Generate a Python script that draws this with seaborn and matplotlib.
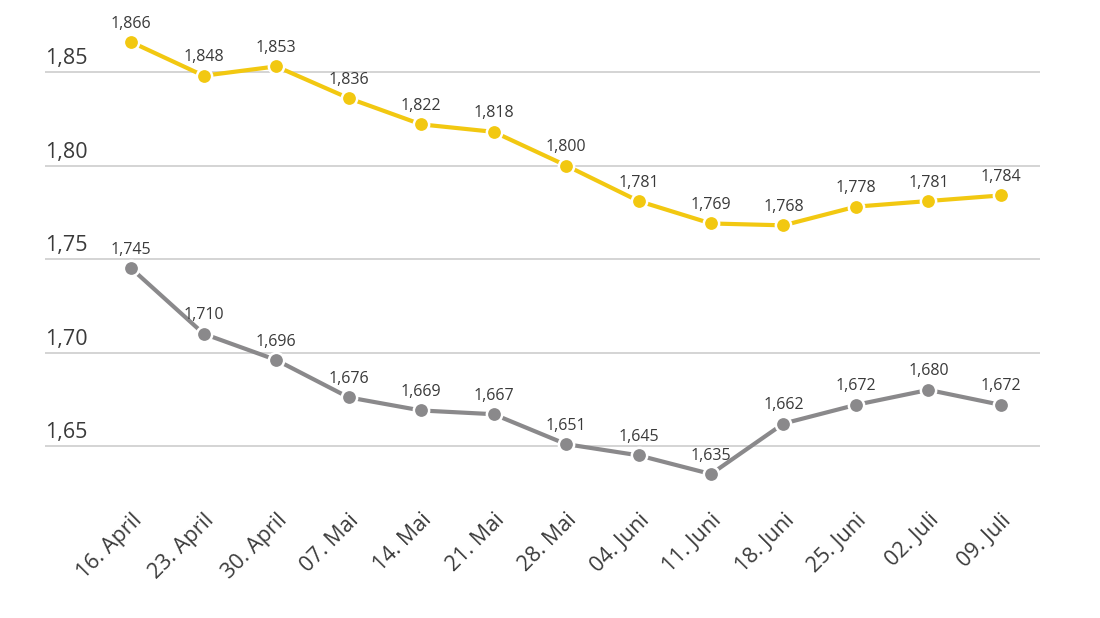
import numpy as np
import pandas as pd
import matplotlib
matplotlib.use("Agg")
import matplotlib.pyplot as plt
import matplotlib.transforms as mtransforms
import seaborn as sb

## Daten
dates = ["16. April", "23. April", "30. April", "07. Mai", "14. Mai", "21. Mai",
         "28. Mai", "04. Juni", "11. Juni", "18. Juni", "25. Juni", "02. Juli",
         "09. Juli"]
yellow_vals = [1.866, 1.848, 1.853, 1.836, 1.822, 1.818, 1.800, 1.781,
               1.769, 1.768, 1.778, 1.781, 1.784]
gray_vals = [1.745, 1.710, 1.696, 1.676, 1.669, 1.667, 1.651, 1.645,
             1.635, 1.662, 1.672, 1.680, 1.672]
grid_vals = [1.65, 1.70, 1.75, 1.80, 1.85]

YELLOW = "#f2c811"
GRAY = "#8a898b"
TEXT = "#3a3a3a"

sb.set_style("white")
plt.rcParams["font.family"] = ["Open Sans", "DejaVu Sans"]

df = pd.DataFrame({"idx": np.arange(len(dates)), "date": dates,
                   "yellow": yellow_vals, "gray": gray_vals})

fig = plt.figure(figsize=(11, 6.18), dpi=100)
ax = fig.add_axes([45 / 1100, 118 / 618, 995 / 1100, 500 / 618])

## Gitterlinien
for g in grid_vals:
    ax.axhline(g, color="#d4d4d4", lw=1.4, zorder=0)
    ax.text(-1.19, g + 0.0015, f"{g:.2f}".replace(".", ","), ha="left",
            va="bottom", fontsize=15.5, color=TEXT)

## Linien
for col, c in [("yellow", YELLOW), ("gray", GRAY)]:
    sb.lineplot(data=df, x="idx", y=col, color=c, lw=3.0, marker="o",
                markersize=11, markeredgecolor="white", markeredgewidth=1.8,
                ax=ax, clip_on=False, zorder=3)
    for i, v in zip(df["idx"], df[col]):
        ax.annotate(f"{v:.3f}".replace(".", ","), (i, v), xytext=(0, 7.5),
                    textcoords="offset points", ha="center", va="bottom",
                    fontsize=11.5, color=TEXT, zorder=4)

ax.set_xlim(-1.19, 12.54)
ax.set_ylim(1.65 - 54 / 1870, 1.85 + 72 / 1870)
ax.set_xticks(df["idx"])
ax.set_xticklabels(dates, rotation=45, ha="right", rotation_mode="anchor",
                   fontsize=15.5, color=TEXT)
offset = mtransforms.ScaledTranslation(14 / 100, 0, fig.dpi_scale_trans)
for lab in ax.get_xticklabels():
    lab.set_transform(lab.get_transform() + offset)
ax.tick_params(axis="x", length=0, pad=7)
ax.set_yticks([])
ax.set_xlabel("")
ax.set_ylabel("")
for s in ax.spines.values():
    s.set_visible(False)

fig.savefig("out.png", dpi=100)
